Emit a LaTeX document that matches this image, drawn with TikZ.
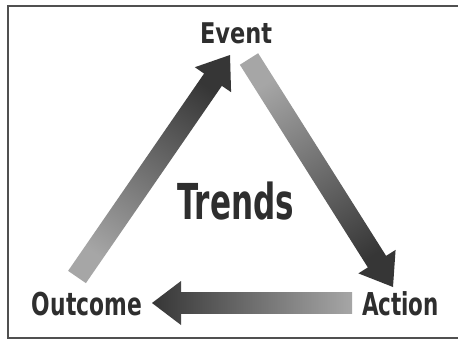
\documentclass[tikz,border=0pt]{standalone}
\usepackage{fontspec}
\setmainfont{DejaVu Sans}
\usetikzlibrary{calc}
\definecolor{inkdark}{HTML}{2E2E2E}
\definecolor{arrowdark}{HTML}{363636}
\definecolor{arrowlight}{HTML}{A6A6A6}
\definecolor{framegray}{HTML}{505050}
\newcommand\fitlabel[3]{\resizebox{#1}{\height}{\fontsize{#2}{#2}\selectfont\bfseries #3}}
% #1 shading options, #2 tail coordinate, #3 tip coordinate, #4 head base coordinate
\newcommand\fatarrow[4]{%
  \shade[#1] ($(#2)!10.8pt!90:(#3)$) -- ($(#4)!10.8pt!90:(#3)$) -- ($(#4)!22pt!90:(#3)$) -- (#3)
    -- ($(#4)!22pt!-90:(#3)$) -- ($(#4)!10.8pt!-90:(#3)$) -- ($(#2)!10.8pt!-90:(#3)$) -- cycle;}
\begin{document}
\begin{tikzpicture}[x=1pt,y=1pt,
  lbl/.style={text=inkdark, inner sep=0pt, anchor=base}]
\useasboundingbox (0,0) rectangle (458,341);
\fill[white] (0,0) rectangle (458,341);
\draw[framegray, line width=1.5pt] (462,335) -- (8,335) -- (8,3) -- (462,3);

% labels
\node[lbl] (event)   at (236,298)   {\fitlabel{72pt}{28.5pt}{Event}};
\node[lbl] (trends)  at (235.5,122) {\fitlabel{117pt}{49.5pt}{Trends}};
\node[lbl] (outcome) at (87,26)     {\fitlabel{110pt}{31.5pt}{Outcome}};
\node[lbl] (action)  at (400.5,26)  {\fitlabel{77pt}{31.5pt}{Action}};

% arrow ends
\coordinate (t1) at (77,64);   \coordinate (h1) at (230,286);
\coordinate (t2) at (249,282); \coordinate (h2) at (393,54);
\coordinate (t3) at (352,38);  \coordinate (h3) at (152,38);
\coordinate (b1) at ($(h1)!30pt!(t1)$);
\coordinate (b2) at ($(h2)!30pt!(t2)$);
\coordinate (b3) at ($(h3)!29pt!(t3)$);

% Outcome -> Event
\fatarrow{top color=arrowdark, bottom color=arrowlight, shading angle=-34.6}{t1}{h1}{b1}
% Event -> Action
\fatarrow{top color=arrowdark, bottom color=arrowlight, shading angle=-147.7}{t2}{h2}{b2}
% Action -> Outcome
\fatarrow{left color=arrowdark, right color=arrowlight}{t3}{h3}{b3}
\end{tikzpicture}
\end{document}
